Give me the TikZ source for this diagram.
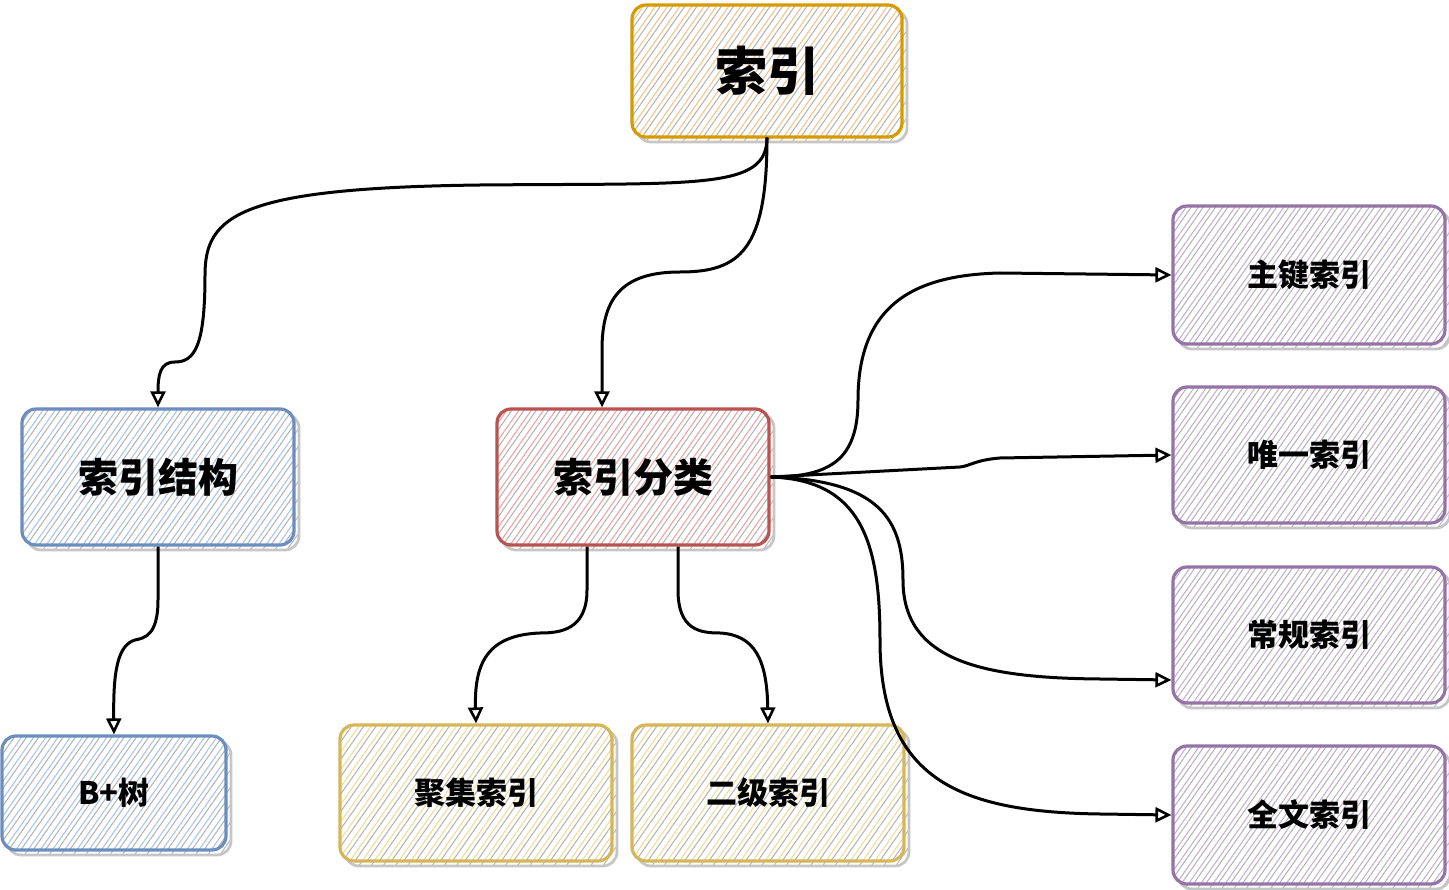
\documentclass[tikz,border=0pt]{standalone}
\usepackage{fontspec}
\newfontfamily\cjk{Noto Sans CJK SC}[BoldFont=* Black]
\usetikzlibrary{patterns.meta,shadows,arrows.meta}
\definecolor{orD}{HTML}{D79B00}\definecolor{orF}{HTML}{F5C48A}
\definecolor{reD}{HTML}{B85450}\definecolor{reF}{HTML}{EDA5A2}
\definecolor{blD}{HTML}{6C8EBF}\definecolor{blF}{HTML}{A9C6EE}
\definecolor{yeD}{HTML}{D6B656}\definecolor{yeF}{HTML}{F2DC9A}
\definecolor{puD}{HTML}{9673A6}\definecolor{puF}{HTML}{C7B2D3}
\tikzset{
 skbox/.style 2 args={rounded corners=14pt, line width=3.2pt, draw=#1,
   copy shadow={shadow xshift=5pt, shadow yshift=-5pt, draw=gray!45, line width=2.8pt, fill=none, pattern={Lines[angle=55,distance=10pt,line width=1pt]}, pattern color=gray!55},
   preaction={fill=white},
   preaction={pattern={Lines[angle=55,distance=10pt,line width=1.1pt]}, pattern color=#2},
   pattern={Lines[angle=55,distance=10pt,xshift=5pt,line width=1pt]}, pattern color=gray!60,
   text=black, inner sep=0pt},
 big/.style={font=\cjk\bfseries\fontsize{52}{60}\selectfont},
 mid/.style={font=\cjk\bfseries\fontsize{40}{48}\selectfont},
 sml/.style={font=\cjk\bfseries\fontsize{31}{38}\selectfont},
 conn/.style={line width=3pt, black, -{Triangle[open,length=16pt,width=15pt,line width=2.6pt]}},
}
\begin{document}
\begin{tikzpicture}[x=1pt,y=-1pt]
\useasboundingbox (0,0) rectangle (1449,890);
\node[skbox={orD}{orF}, big, minimum width=270pt, minimum height=132pt] (root) at (767,71) {索引};
\node[skbox={blD}{blF}, mid, minimum width=272pt, minimum height=136pt] (struct) at (158,477) {索引结构};
\node[skbox={reD}{reF}, mid, minimum width=272pt, minimum height=136pt] (cls) at (633,477) {索引分类};
\node[skbox={blD}{blF}, sml, minimum width=224pt, minimum height=114pt] (btree) at (114,793) {B+树};
\node[skbox={yeD}{yeF}, sml, minimum width=272pt, minimum height=136pt] (ci) at (476,793) {聚集索引};
\node[skbox={yeD}{yeF}, sml, minimum width=272pt, minimum height=136pt] (si) at (768,793) {二级索引};
\node[skbox={puD}{puF}, sml, minimum width=272pt, minimum height=138pt] (pk) at (1309,275) {主键索引};
\node[skbox={puD}{puF}, sml, minimum width=272pt, minimum height=136pt] (uq) at (1309,455) {唯一索引};
\node[skbox={puD}{puF}, sml, minimum width=272pt, minimum height=136pt] (reg) at (1309,635) {常规索引};
\node[skbox={puD}{puF}, sml, minimum width=272pt, minimum height=138pt] (ft) at (1309,815) {全文索引};

\draw[conn] (root.south) .. controls (767,190) and (700,183) .. (480,185) .. controls (240,188) and (205,215) .. (205,275) .. controls (205,345) and (195,362) .. (175,362) .. controls (160,362) and (158,375) .. (struct.north);
\draw[conn] (root.south) .. controls (767,250) and (740,272) .. (680,272) .. controls (620,272) and (602,300) .. (602,350) -- ([xshift=-31pt]cls.north);
\draw[conn] (struct.south) -- (158,600) .. controls (158,635) and (145,638) .. (135,640) .. controls (118,645) and (113,670) .. (btree.north);
\draw[conn] ([xshift=-46pt]cls.south) -- (587,590) .. controls (587,630) and (560,633) .. (540,633) .. controls (490,635) and (474,660) .. (ci.north);
\draw[conn] ([xshift=45pt]cls.south) -- (678,590) .. controls (678,630) and (700,633) .. (720,633) .. controls (755,635) and (767,660) .. (si.north);
\draw[conn] (cls.east) .. controls (830,477) and (858,460) .. (858,400) .. controls (858,300) and (920,275) .. (1000,273) -- (pk.west);
\draw[conn] (cls.east) -- (960,467) .. controls (970,466) and (975,460) .. (1000,458) -- (uq.west);
\draw[conn] (cls.east) .. controls (880,480) and (903,520) .. (903,580) .. controls (903,660) and (980,678) .. (1100,679) -- ([yshift=-45pt]reg.west);
\draw[conn] (cls.east) .. controls (860,480) and (880,540) .. (880,640) .. controls (880,780) and (960,812) .. (1100,814) -- (ft.west);
\end{tikzpicture}
\end{document}
